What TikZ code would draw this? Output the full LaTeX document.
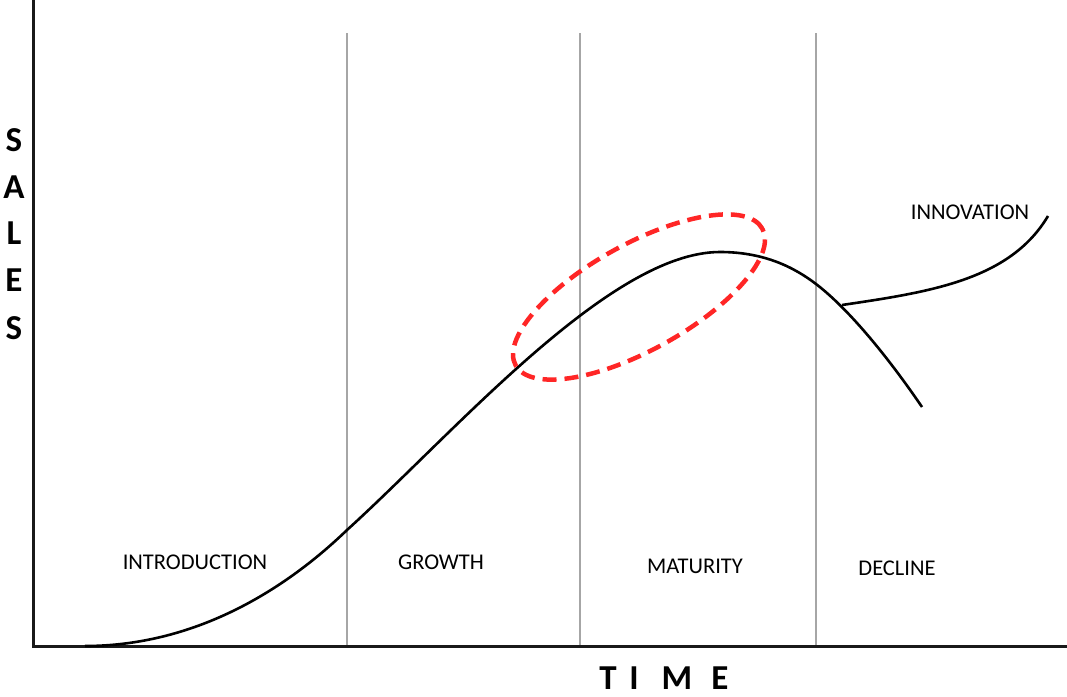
\documentclass[tikz,border=0pt]{standalone}
\usepackage{fontspec}
\setmainfont{Carlito}
\usetikzlibrary{shapes.geometric}
\begin{document}
\begin{tikzpicture}[x=1pt,y=-1pt,
  axis/.style={line width=3pt,black!90},
  stage/.style={line width=1.3pt,gray!70},
  curve/.style={line width=2.6pt,black},
  lbl/.style={font=\fontsize{22.5}{24}\selectfont,inner sep=0pt},
  big/.style={font=\fontsize{35}{38}\selectfont\bfseries,inner sep=0pt},
  hl/.style={draw=red!85!white,line width=4.5pt,dash pattern=on 14pt off 8pt}]
\useasboundingbox (0,0) rectangle (1067,696);
\coordinate (o) at (33,646);
\coordinate (ytop) at (33,0);
\coordinate (xend) at (1067,646);
\foreach \x/\n in {347/a,580/b,816/c}{
  \coordinate (s\n t) at (\x,33);
  \coordinate (s\n b) at (\x,646);
  \draw[stage] (s\n t) -- (s\n b);
}
\draw[axis] (ytop) -- (o) -- (xend);
\coordinate (c0) at (85,646);
\coordinate (c1) at (347,530);
\coordinate (pk) at (720,252);
\coordinate (br) at (816,284);
\coordinate (cend) at (922,407);
\coordinate (ib) at (842,305);
\coordinate (iend) at (1048,216);
\draw[curve] (c0) .. controls (200,646) and (290,585) .. (c1)
  .. controls (455,432) and (610,252) .. (pk)
  .. controls (765,252) and (795,268) .. (br)
  .. controls (850,310) and (890,360) .. (cend);
\draw[curve] (ib) .. controls (930,292) and (1010,280) .. (iend);
\node[hl,ellipse,minimum width=282pt,minimum height=106pt,rotate=29] (oval) at (639,297) {};
\node[lbl] (intro) at (195,562) {INTRODUCTION};
\node[lbl] (growth) at (441,562) {GROWTH};
\node[lbl] (mat) at (695,566) {MATURITY};
\node[lbl] (dec) at (897,568) {DECLINE};
\node[lbl] (inn) at (970,212) {INNOVATION};
\foreach \c/\y/\n in {S/140/1,A/187/2,L/233/3,E/280/4,S/328/5}{
  \node[big] (y\n) at (14,\y) {\c};
}
\foreach \c/\x/\n in {T/608/1,I/634/2,M/677/3,E/720/4}{
  \node[big,anchor=base] (t\n) at (\x,689) {\c};
}
\end{tikzpicture}
\end{document}
